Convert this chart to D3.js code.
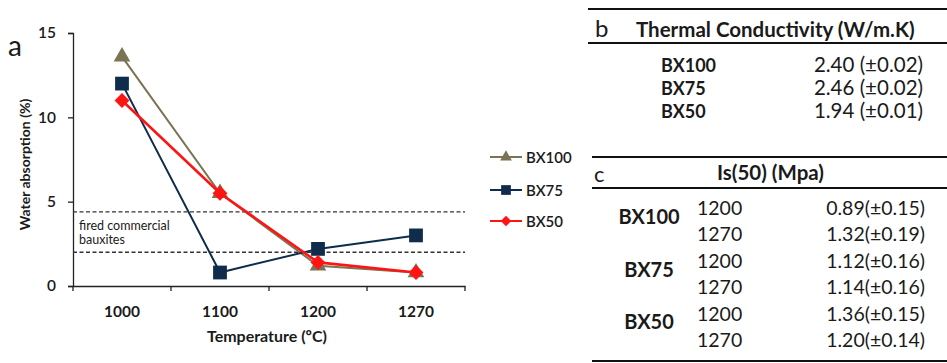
<!DOCTYPE html>
<html><head><meta charset="utf-8">
<script src="https://cdn.jsdelivr.net/npm/d3@7"></script>
<style>body{margin:0;background:#fff}svg{display:block}text{font-family:Lato,"Open Sans",sans-serif;fill:#1a1a1a}</style>
</head><body>
<svg id="c" width="947" height="363"></svg>
<script>
const temps = ["1000","1100","1200","1270"];
const bx100 = [13.6, 5.5, 1.2, 0.8];
const bx75 = [12.0, 0.8, 2.2, 3.0];
const bx50 = [11.0, 5.5, 1.4, 0.8];
const seriesNames = ["BX100","BX75","BX50"];
const yTicks = [0,5,10,15];
const bauxiteRange = [2.0, 4.4];
const tcSamples = ["BX100","BX75","BX50"];
const tcValues = ["2.40 (±0.02)","2.46 (±0.02)","1.94 (±0.01)"];
const isSamples = ["BX100","BX75","BX50"];
const isTemps = ["1200","1270"];
const isValues = ["0.89(±0.15)","1.32(±0.19)","1.12(±0.16)","1.14(±0.16)","1.36(±0.15)","1.20(±0.14)"];

const svg = d3.select("#c");
const L=73,R=465,T=33,B=286;
const x = d3.scaleBand().domain(temps).range([L,R]);
const y = d3.scaleLinear().domain([0,15]).range([B,T]);

// axes
const ya = svg.append("g").attr("transform",`translate(${L},0)`)
  .call(d3.axisLeft(y).tickValues(yTicks).tickSize(5).tickPadding(12));
ya.select(".domain").attr("stroke","#222").attr("stroke-width",1.3);
ya.selectAll("line").attr("stroke","#222").attr("stroke-width",1.3);
ya.selectAll("text").style("font-size","15.5px").style("font-weight","600").attr("fill","#222");

const xa = svg.append("g").attr("transform",`translate(0,${B})`)
  .call(d3.axisBottom(x).tickSize(0).tickPadding(20));
xa.select(".domain").attr("stroke","#222").attr("stroke-width",1.3);
xa.selectAll("text").style("font-size","15.5px").style("font-weight","700").attr("fill","#222");
const bounds = temps.map(t=>x(t)).concat([R]);
svg.append("g").selectAll("line").data(bounds).join("line")
  .attr("x1",d=>d).attr("x2",d=>d).attr("y1",B).attr("y2",B+5)
  .attr("stroke","#222").attr("stroke-width",1.3);

// labels
svg.append("text").attr("transform",`translate(30,${(T+B)/2+5}) rotate(-90)`)
  .attr("text-anchor","middle").style("font-size","14px").style("font-weight","700").attr("fill","#333")
  .text("Water absorption (%)");
svg.append("text").attr("x",(L+R)/2-2).attr("y",342).attr("text-anchor","middle")
  .style("font-size","16px").style("font-weight","700").attr("fill","#333").text("Temperature (ºC)");
svg.append("text").attr("x",8).attr("y",56).style("font-size","28px").text("a");

// bauxite band
svg.append("g").selectAll("line").data(bauxiteRange).join("line")
  .attr("x1",L).attr("x2",R).attr("y1",d=>y(d)).attr("y2",d=>y(d))
  .attr("stroke","#333").attr("stroke-width",1.3).attr("stroke-dasharray","4,2.5");
svg.append("text").attr("x",79).attr("y",230).style("font-size","12.5px").attr("fill","#444").text("fired commercial");
svg.append("text").attr("x",79).attr("y",244).style("font-size","12.5px").attr("fill","#444").text("bauxites");

const cx = t => x(t)+x.bandwidth()/2;
const diamond = {draw(ctx,size){const r=Math.sqrt(size/2);ctx.moveTo(0,-r);ctx.lineTo(r,0);ctx.lineTo(0,r);ctx.lineTo(-r,0);ctx.closePath();}};
const series = [
  {name:"BX100", vals:bx100, color:"#7b7355", sym:d3.symbolTriangle, size:120, w:2},
  {name:"BX75", vals:bx75, color:"#0f2c4c", sym:d3.symbolSquare, size:190, w:2},
  {name:"BX50", vals:bx50, color:"#ff1414", sym:diamond, size:110, w:2.6}
];
const line = d3.line().x((d,i)=>cx(temps[i])).y(d=>y(d));
series.forEach(s=>{
  svg.append("path").datum(s.vals).attr("d",line).attr("fill","none")
    .attr("stroke",s.color).attr("stroke-width",s.w);
  svg.append("g").selectAll("path").data(s.vals).join("path")
    .attr("transform",(d,i)=>`translate(${cx(temps[i])},${y(d)})`)
    .attr("d",d3.symbol().type(s.sym).size(s.size)).attr("fill",s.color);
});

// legend
const ly = [157,190,221];
series.forEach((s,i)=>{
  const g = svg.append("g").attr("transform",`translate(490,${ly[i]})`);
  g.append("line").attr("x1",0).attr("x2",32).attr("stroke",s.color).attr("stroke-width",2);
  g.append("path").attr("transform","translate(16,0)").attr("d",d3.symbol().type(s.sym).size(s.size*0.5)).attr("fill",s.color);
  g.append("text").attr("x",36).attr("y",5.5).style("font-size","15px").style("font-weight","600").attr("fill","#333").text(seriesNames[i]);
});

// table b
const rule = (x1,x2,yy)=>svg.append("line").attr("x1",x1).attr("x2",x2).attr("y1",yy).attr("y2",yy).attr("stroke","#111").attr("stroke-width",2.2);
rule(588,947,9); rule(588,947,43);
svg.append("text").attr("x",595).attr("y",37).style("font-size","24px").text("b");
svg.append("text").attr("x",636).attr("y",37).style("font-size","20.5px").style("font-weight","700").text("Thermal Conductivity (W/m.K)");
tcSamples.forEach((s,i)=>{
  const yy = 72+i*23;
  svg.append("text").attr("x",661).attr("y",yy).style("font-size","18px").style("font-weight","700").text(s);
  svg.append("text").attr("x",923).attr("y",yy).attr("text-anchor","end").style("font-size","20.5px").text(tcValues[i]);
});

// table c
rule(592,947,157); rule(592,947,188); rule(592,947,361);
svg.append("text").attr("x",594).attr("y",182).style("font-size","22px").text("c");
svg.append("text").attr("x",717).attr("y",180).style("font-size","20.5px").style("font-weight","700").text("Is(50) (Mpa)");
isSamples.forEach((s,i)=>{
  svg.append("text").attr("x",649).attr("y",224+i*52.5).attr("text-anchor","middle")
    .style("font-size","20px").style("font-weight","700").text(s);
  isTemps.forEach((t,j)=>{
    const yy = 215+(i*2+j)*26.4;
    svg.append("text").attr("x",697).attr("y",yy).style("font-size","19.5px").text(t);
    svg.append("text").attr("x",925).attr("y",yy).attr("text-anchor","end").style("font-size","19.5px").text(isValues[i*2+j]);
  });
});
</script>
</body></html>
